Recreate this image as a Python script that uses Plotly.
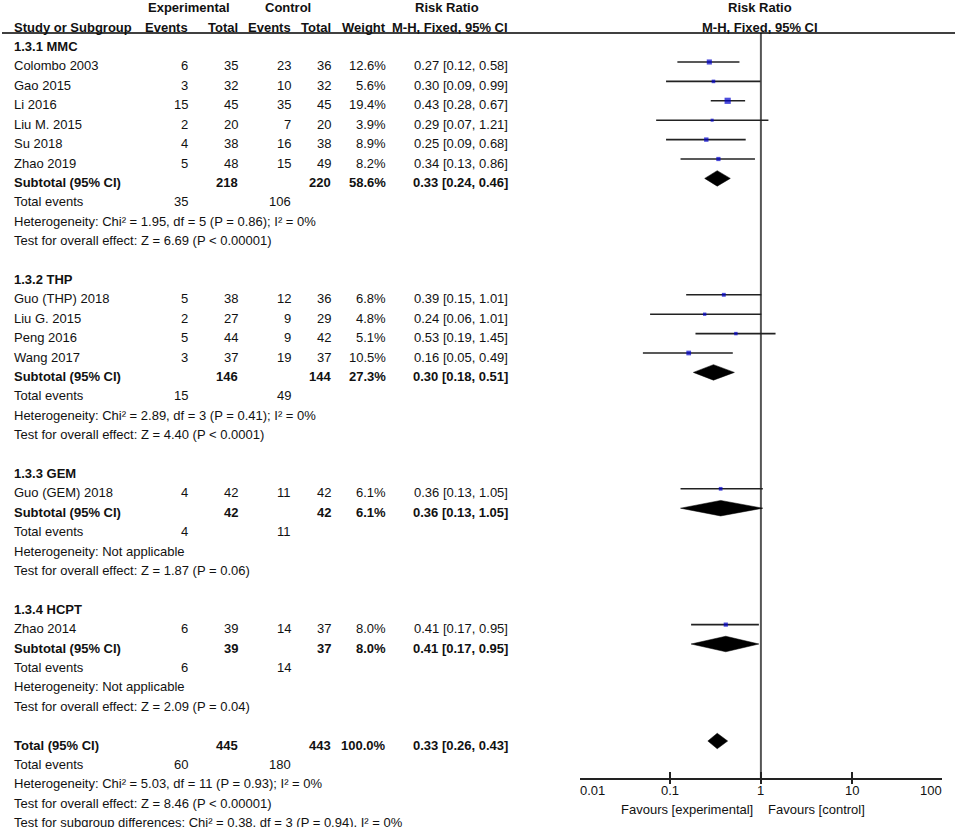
import math
import plotly.graph_objects as go

# ---------------- data ----------------
studies = ["Colombo 2003", "Gao 2015", "Li 2016", "Liu M. 2015", "Su 2018", "Zhao 2019",
           "Guo (THP) 2018", "Liu G. 2015", "Peng 2016", "Wang 2017",
           "Guo (GEM) 2018", "Zhao 2014"]
study_group = [0, 0, 0, 0, 0, 0, 1, 1, 1, 1, 2, 3]
exp_events = [6, 3, 15, 2, 4, 5, 5, 2, 5, 3, 4, 6]
exp_total = [35, 32, 45, 20, 38, 48, 38, 27, 44, 37, 42, 39]
ctrl_events = [23, 10, 35, 7, 16, 15, 12, 9, 9, 19, 11, 14]
ctrl_total = [36, 32, 45, 20, 38, 49, 36, 29, 42, 37, 42, 37]
weights = [12.6, 5.6, 19.4, 3.9, 8.9, 8.2, 6.8, 4.8, 5.1, 10.5, 6.1, 8.0]
rr = [0.27, 0.30, 0.43, 0.29, 0.25, 0.34, 0.39, 0.24, 0.53, 0.16, 0.36, 0.41]
rr_lo = [0.12, 0.09, 0.28, 0.07, 0.09, 0.13, 0.15, 0.06, 0.19, 0.05, 0.13, 0.17]
rr_hi = [0.58, 0.99, 0.67, 1.21, 0.68, 0.86, 1.01, 1.01, 1.45, 0.49, 1.05, 0.95]

groups = ["1.3.1 MMC", "1.3.2 THP", "1.3.3 GEM", "1.3.4 HCPT"]
grp_exp_total = [218, 146, 42, 39]
grp_ctrl_total = [220, 144, 42, 37]
grp_weight = [58.6, 27.3, 6.1, 8.0]
grp_rr = [0.33, 0.30, 0.36, 0.41]
grp_lo = [0.24, 0.18, 0.13, 0.17]
grp_hi = [0.46, 0.51, 1.05, 0.95]
grp_exp_events = [35, 15, 4, 6]
grp_ctrl_events = [106, 49, 11, 14]
grp_het = ["Heterogeneity: Chi² = 1.95, df = 5 (P = 0.86); I² = 0%",
           "Heterogeneity: Chi² = 2.89, df = 3 (P = 0.41); I² = 0%",
           "Heterogeneity: Not applicable",
           "Heterogeneity: Not applicable"]
grp_test = ["Test for overall effect: Z = 6.69 (P &lt; 0.00001)",
            "Test for overall effect: Z = 4.40 (P &lt; 0.0001)",
            "Test for overall effect: Z = 1.87 (P = 0.06)",
            "Test for overall effect: Z = 2.09 (P = 0.04)"]

total_exp_total = 445
total_ctrl_total = 443
total_weight = 100.0
total_rr = 0.33
total_lo = 0.26
total_hi = 0.43
total_exp_events = 60
total_ctrl_events = 180
total_het = "Heterogeneity: Chi² = 5.03, df = 11 (P = 0.93); I² = 0%"
total_test = "Test for overall effect: Z = 8.46 (P &lt; 0.00001)"
subgroup_test = "Test for subgroup differences: Chi² = 0.38, df = 3 (P = 0.94), I² = 0%"

axis_ticks = [0.01, 0.1, 1, 10, 100]
axis_tick_labels = ["0.01", "0.1", "1", "10", "100"]
favours_left = "Favours [experimental]"
favours_right = "Favours [control]"

# ---------------- layout geometry ----------------
FW, FH = 957, 827
ROW_PX = 19.4
ROW0_PX = 42.6          # pixel position of row 0 (marks)
TEXT_DY = 4             # text sits slightly lower than the marks
FONT = "Liberation Sans"
FS = 13
TXT = "#111111"

def px_to_row(p):
    return (p - ROW0_PX) / ROW_PX

def row_to_py(r):
    return ROW0_PX + ROW_PX * r

def px_x(p):
    return p / FW

def px_y(p):
    return (FH - p) / FH

col_x = {"name": 12, "ee": 190, "et": 240, "ce": 293, "ct": 333, "w": 388, "rr": 510}

annotations = []

def txt(row, key, text, bold=False, anchor="right", x=None):
    xx = px_x(x if x is not None else col_x[key])
    annotations.append(dict(
        x=xx, xref="paper", y=px_y(row_to_py(row) + TEXT_DY), yref="paper",
        text=(f"<b>{text}</b>" if bold else text),
        showarrow=False, xanchor=anchor, yanchor="middle",
        font=dict(family=FONT, size=FS, color=TXT)))

def fmt_rr(r, lo, hi):
    return f"{r:.2f} [{lo:.2f}, {hi:.2f}]"

# headers
txt(-2, None, "Experimental", True, "center", 189)
txt(-2, None, "Control", True, "center", 288)
txt(-2, None, "Risk Ratio", True, "center", 447)
txt(-2, None, "Risk Ratio", True, "center", 760)
txt(-1, "name", "Study or Subgroup", True, "left")
txt(-1, "ee", "Events", True)
txt(-1, "et", "Total", True)
txt(-1, "ce", "Events", True)
txt(-1, "ct", "Total", True)
txt(-1, "w", "Weight", True)
txt(-1, "rr", "M-H, Fixed, 95% CI", True)
txt(-1, None, "M-H, Fixed, 95% CI", True, "center", 760)

study_rows = []
grp_rows = []
row = 0
for g, gname in enumerate(groups):
    txt(row, "name", gname, True, "left")
    row += 1
    for i, s in enumerate(studies):
        if study_group[i] != g:
            continue
        txt(row, "name", s, anchor="left")
        txt(row, "ee", str(exp_events[i]))
        txt(row, "et", str(exp_total[i]))
        txt(row, "ce", str(ctrl_events[i]))
        txt(row, "ct", str(ctrl_total[i]))
        txt(row, "w", f"{weights[i]:.1f}%")
        txt(row, "rr", fmt_rr(rr[i], rr_lo[i], rr_hi[i]))
        study_rows.append(row)
        row += 1
    txt(row, "name", "Subtotal (95% CI)", True, "left")
    txt(row, "et", str(grp_exp_total[g]), True)
    txt(row, "ct", str(grp_ctrl_total[g]), True)
    txt(row, "w", f"{grp_weight[g]:.1f}%", True)
    txt(row, "rr", fmt_rr(grp_rr[g], grp_lo[g], grp_hi[g]), True)
    grp_rows.append(row)
    row += 1
    txt(row, "name", "Total events", anchor="left")
    txt(row, "ee", str(grp_exp_events[g]))
    txt(row, "ce", str(grp_ctrl_events[g]))
    row += 1
    txt(row, "name", grp_het[g], anchor="left")
    row += 1
    txt(row, "name", grp_test[g], anchor="left")
    row += 2

total_row = row
txt(row, "name", "Total (95% CI)", True, "left")
txt(row, "et", str(total_exp_total), True)
txt(row, "ct", str(total_ctrl_total), True)
txt(row, "w", f"{total_weight:.1f}%", True)
txt(row, "rr", fmt_rr(total_rr, total_lo, total_hi), True)
row += 1
txt(row, "name", "Total events", anchor="left")
txt(row, "ee", str(total_exp_events))
txt(row, "ce", str(total_ctrl_events))
row += 1
txt(row, "name", total_het, anchor="left")
row += 1
txt(row, "name", total_test, anchor="left")
row += 1
txt(row, "name", subgroup_test, anchor="left")

# ---------------- traces ----------------
fig = go.Figure()

# CI lines
for i in range(len(studies)):
    fig.add_trace(go.Scatter(x=[rr_lo[i], rr_hi[i]], y=[study_rows[i]] * 2, mode="lines",
                             line=dict(color="#222222", width=1.6), hoverinfo="skip",
                             showlegend=False, cliponaxis=False))
# weighted squares
fig.add_trace(go.Scatter(x=rr, y=study_rows, mode="markers",
                         marker=dict(symbol="square", color="#0000cc",
                                     size=[1.3 * w ** 0.5 + 0.5 for w in weights],
                                     line=dict(width=0)),
                         showlegend=False, cliponaxis=False))

# diamonds
DH = 0.40
def diamond(r, lo, hi, y):
    fig.add_trace(go.Scatter(x=[lo, r, hi, r, lo], y=[y, y - DH, y, y + DH, y],
                             mode="lines", fill="toself", fillcolor="black",
                             line=dict(color="black", width=0.5), hoverinfo="skip",
                             showlegend=False, cliponaxis=False))

for g in range(len(groups)):
    diamond(grp_rr[g], grp_lo[g], grp_hi[g], grp_rows[g])
diamond(total_rr, total_lo, total_hi, total_row)

axis_px = 779
axis_row = px_to_row(axis_px)

shapes = [
    dict(type="line", xref="paper", yref="y", x0=px_x(2), x1=px_x(955),
         y0=px_to_row(33), y1=px_to_row(33), line=dict(color="black", width=1.6)),
    dict(type="line", xref="x", yref="y", x0=1, x1=1, y0=px_to_row(33), y1=axis_row,
         line=dict(color="#555555", width=2), layer="below"),
]

for v, lab in zip(axis_ticks, axis_tick_labels):
    anchor = "left" if v == axis_ticks[0] else ("right" if v == axis_ticks[-1] else "center")
    annotations.append(dict(x=math.log10(v), xref="x", y=px_y(790), yref="paper", text=lab,
                            showarrow=False, xanchor=anchor, yanchor="middle",
                            xshift=(-2 if anchor == "left" else (2 if anchor == "right" else 0)),
                            font=dict(family=FONT, size=FS, color=TXT)))
annotations.append(dict(x=0, xref="x", y=px_y(809), yref="paper", text=favours_left,
                        showarrow=False, xanchor="right", yanchor="middle", xshift=-6,
                        font=dict(family=FONT, size=FS, color=TXT)))
annotations.append(dict(x=0, xref="x", y=px_y(809), yref="paper", text=favours_right,
                        showarrow=False, xanchor="left", yanchor="middle", xshift=5,
                        font=dict(family=FONT, size=FS, color=TXT)))

fig.update_layout(
    width=FW, height=FH, margin=dict(l=0, r=0, t=0, b=0),
    paper_bgcolor="white", plot_bgcolor="white",
    font=dict(family=FONT, size=FS, color=TXT),
    hovermode=False,
    xaxis=dict(type="log", range=[-2, 2], domain=[px_x(579.5), px_x(942.3)],
               anchor="free", position=px_y(axis_px), side="bottom",
               showgrid=False, zeroline=False, showline=True, linecolor="#222222", linewidth=1.6,
               ticks="inside", ticklen=6, tickwidth=1.6, tickcolor="#222222",
               tickvals=axis_ticks, showticklabels=False, fixedrange=True,
               minor=dict(tickvals=axis_ticks, ticks="outside", ticklen=4,
                          tickwidth=1.6, tickcolor="#222222", showgrid=False)),
    yaxis=dict(range=[px_to_row(FH), px_to_row(0)], domain=[0, 1], visible=False,
               showgrid=False, zeroline=False, fixedrange=True),
    shapes=shapes, annotations=annotations,
)

# remove the default page margin so the 957x827 figure fills the window exactly
fig.write_html("out.html", config={"displayModeBar": False},
               post_script="document.body.style.margin='0px';")
